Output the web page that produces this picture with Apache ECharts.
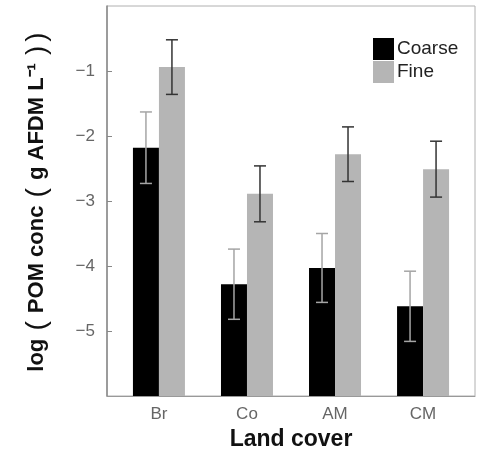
<!DOCTYPE html>
<html>
<head>
<meta charset="utf-8">
<script src="https://cdn.jsdelivr.net/npm/echarts@6/dist/echarts.min.js"></script>
<style>html,body{margin:0;padding:0;background:#fff;}#c{width:479px;height:453px;}</style>
</head>
<body>
<div id="c"></div>
<script>
const categories = ['Br', 'Co', 'AM', 'CM'];
const coarseMean = [-2.18, -4.28, -4.03, -4.62];
const coarseErr = [0.55, 0.54, 0.53, 0.54];
const fineMean = [-0.94, -2.89, -2.28, -2.51];
const fineErr = [0.42, 0.43, 0.42, 0.43];
const yTicks = [-1, -2, -3, -4, -5];
const yMin = -6, yMax = 0;

const FONT = '"Liberation Sans", Arial, sans-serif';
const BAR_W = 26, CAP = 12;

function makeRender(side, fill, errColor) {
  return function (params, api) {
    const x = api.value(0), v = api.value(1), e = api.value(2);
    const top = api.coord([x, v]);
    const base = api.coord([x, yMin]);
    const hi = api.coord([x, v + e]);
    const lo = api.coord([x, v - e]);
    const left = side < 0 ? top[0] - BAR_W : top[0];
    const mid = left + BAR_W / 2;
    const ls = { stroke: errColor, lineWidth: 1.5 };
    return {
      type: 'group',
      children: [
        { type: 'rect', shape: { x: left, y: top[1], width: BAR_W, height: base[1] - top[1] }, style: { fill: fill } },
        { type: 'line', shape: { x1: mid, y1: hi[1], x2: mid, y2: lo[1] }, style: ls },
        { type: 'line', shape: { x1: mid - CAP / 2, y1: hi[1], x2: mid + CAP / 2, y2: hi[1] }, style: ls },
        { type: 'line', shape: { x1: mid - CAP / 2, y1: lo[1], x2: mid + CAP / 2, y2: lo[1] }, style: ls }
      ]
    };
  };
}

const coarseData = categories.map((c, i) => [i, coarseMean[i], coarseErr[i]]);
const fineData = categories.map((c, i) => [i, fineMean[i], fineErr[i]]);

const chart = echarts.init(document.getElementById('c'), null, { renderer: 'canvas' });
chart.setOption({
  animation: false,
  backgroundColor: '#fff',
  textStyle: { fontFamily: FONT },
  grid: { left: 107, top: 6, width: 368, height: 390, outerBoundsMode: 'none', containLabel: false, show: true, borderColor: '#b0b0b0', borderWidth: 1 },
  legend: {
    orient: 'vertical', left: 368, top: 33, itemWidth: 21, itemHeight: 22, itemGap: 1,
    icon: 'rect',
    textStyle: { fontSize: 19, color: '#222', fontFamily: FONT, padding: [0, 0, 0, -2] },
    data: ['Coarse', 'Fine']
  },
  xAxis: {
    type: 'value', min: -0.59, max: 3.59,
    splitLine: { show: false },
    axisLine: { onZero: false, lineStyle: { color: '#999' } },
    axisTick: { show: false },
    axisLabel: {
      customValues: [0, 1, 2, 3], margin: 10, fontSize: 17, color: '#666', fontFamily: FONT,
      formatter: v => categories[Math.round(v)] || ''
    },
    name: 'Land cover', nameLocation: 'middle', nameGap: 32,
    nameTextStyle: { fontSize: 23, fontWeight: 'bold', color: '#111', fontFamily: FONT }
  },
  yAxis: {
    type: 'value', min: yMin, max: yMax,
    splitLine: { show: false },
    axisLine: { show: true, onZero: false, lineStyle: { color: '#888', width: 1.5 } },
    axisTick: { show: true, customValues: yTicks, inside: true, length: 5, lineStyle: { color: '#888' } },
    axisLabel: {
      customValues: yTicks, margin: 12, fontSize: 17, color: '#666', fontFamily: FONT,
      formatter: v => (v < 0 ? '\u2212' + Math.abs(v) : String(v))
    },
    name: 'log {p|(} POM conc {p|(} g AFDM L\u207B\u00B9 {p|)}{p|)}',
    nameLocation: 'middle', nameGap: 56, nameRotate: 90,
    nameTextStyle: {
      fontSize: 22, fontWeight: 'bold', color: '#111', fontFamily: FONT,
      rich: { p: { fontSize: 28, fontWeight: 'normal', color: '#111', fontFamily: FONT, padding: [0, 2, 0, 2] } }
    }
  },
  series: [
    { name: 'Coarse', type: 'custom', itemStyle: { color: '#000' }, renderItem: makeRender(-1, '#000', '#a5a5a5'), data: coarseData, encode: { x: 0, y: 1 } },
    { name: 'Fine', type: 'custom', itemStyle: { color: '#b5b5b5' }, renderItem: makeRender(1, '#b5b5b5', '#333'), data: fineData, encode: { x: 0, y: 1 } }
  ]
});
</script>
</body>
</html>
